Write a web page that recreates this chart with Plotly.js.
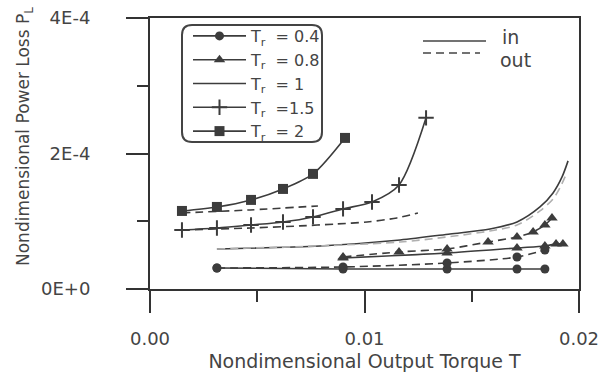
<!DOCTYPE html>
<html>
<head>
<meta charset="utf-8">
<script src="https://cdn.plot.ly/plotly-3.0.1.min.js"></script>
<style>html,body{margin:0;padding:0;background:#fff;}</style>
</head>
<body>
<div id="chart" style="width:598px;height:372px;"></div>
<script>
// ---- data ----
const legendNames = ['T<sub>r</sub>\u00A0\u00A0= 0.4', 'T<sub>r</sub>\u00A0\u00A0= 0.8', 'T<sub>r</sub>\u00A0\u00A0= 1', 'T<sub>r</sub>\u00A0\u00A0=1.5', 'T<sub>r</sub>\u00A0\u00A0= 2'];

const T_in_04  = [0.00312, 0.00900, 0.01385, 0.01711, 0.01841];
const P_in_04  = [0.310e-4, 0.295e-4, 0.295e-4, 0.295e-4, 0.295e-4];
const T_out_04 = [0.00312, 0.00900, 0.01385, 0.01711, 0.01841];
const P_out_04 = [0.310e-4, 0.325e-4, 0.384e-4, 0.473e-4, 0.576e-4];

const T_in_08  = [0.00900, 0.01385, 0.01711, 0.01841, 0.01893, 0.01925];
const P_in_08  = [0.458e-4, 0.532e-4, 0.606e-4, 0.635e-4, 0.665e-4, 0.665e-4];
const T_out_08 = [0.00900, 0.01161, 0.01385, 0.01576, 0.01711, 0.01786, 0.01841, 0.01874];
const P_out_08 = [0.473e-4, 0.547e-4, 0.591e-4, 0.694e-4, 0.768e-4, 0.842e-4, 0.945e-4, 1.049e-4];

const T_in_1   = [0.00312, 0.00793, 0.01166, 0.01399, 0.01585, 0.01711, 0.01818, 0.01879, 0.01921, 0.01949];
const P_in_1   = [0.591e-4, 0.635e-4, 0.724e-4, 0.812e-4, 0.886e-4, 0.990e-4, 1.211e-4, 1.418e-4, 1.654e-4, 1.891e-4];
const T_out_1  = [0.00312, 0.01166, 0.01585, 0.01711, 0.01818, 0.01879, 0.01911, 0.01939];
const P_out_1  = [0.591e-4, 0.694e-4, 0.857e-4, 0.945e-4, 1.152e-4, 1.329e-4, 1.492e-4, 1.684e-4];

const T_in_15  = [0.00149, 0.00312, 0.00471, 0.00620, 0.00760, 0.00900, 0.01035, 0.01161, 0.01287];
const P_in_15  = [0.871e-4, 0.901e-4, 0.945e-4, 0.990e-4, 1.064e-4, 1.182e-4, 1.285e-4, 1.536e-4, 2.526e-4];
const T_out_15 = [0.00149, 0.00471, 0.00699, 0.00872, 0.01012, 0.01151, 0.01249];
const P_out_15 = [0.871e-4, 0.901e-4, 0.931e-4, 0.960e-4, 0.990e-4, 1.049e-4, 1.123e-4];

const T_in_2   = [0.00149, 0.00312, 0.00471, 0.00620, 0.00760, 0.00909];
const P_in_2   = [1.152e-4, 1.211e-4, 1.315e-4, 1.477e-4, 1.699e-4, 2.230e-4];
const T_out_2  = [0.00149, 0.00466, 0.00783];
const P_out_2  = [1.123e-4, 1.167e-4, 1.226e-4];

const xTickVals = [0, 0.01, 0.02];
const xTickText = ['0.00', '0.01', '0.02'];
const xMinorVals = [0.005, 0.015];
const yTickVals = [0, 2e-4, 4e-4];
const yTickText = ['0E+0', '2E-4', '4E-4'];
const yMinorVals = [1e-4, 3e-4];

const xTitle = 'Nondimensional Output Torque T';
const yTitle = 'Nondimensional Power Loss P<sub>L</sub>';

// ---- styles ----
const INK = '#3c3c3c';
const DASH = '8px,5px';

function inTrace(x, y, name, symbol, size) {
  const t = {x: x, y: y, name: name, type: 'scatter', showlegend: true,
    mode: symbol ? 'lines+markers' : 'lines',
    line: {color: INK, width: 1.6, shape: 'spline', smoothing: 0.8}};
  if (symbol) t.marker = {symbol: symbol, size: size, color: INK, line: {color: INK, width: symbol === 'cross-thin' ? 2 : 0}};
  return t;
}
function outTrace(x, y, symbol, size, color) {
  const t = {x: x, y: y, type: 'scatter', showlegend: false, hoverinfo: 'skip',
    mode: symbol ? 'lines+markers' : 'lines',
    line: {color: color || INK, width: 1.6, dash: DASH, shape: 'spline', smoothing: 0.8}};
  if (symbol) t.marker = {symbol: symbol, size: size, color: INK, line: {width: 0}};
  return t;
}

const data = [
  inTrace(T_in_04, P_in_04, legendNames[0], 'circle', 9),
  inTrace(T_in_08, P_in_08, legendNames[1], 'triangle-up', 10),
  inTrace(T_in_1, P_in_1, legendNames[2], null, 0),
  inTrace(T_in_15, P_in_15, legendNames[3], 'cross-thin', 11),
  inTrace(T_in_2, P_in_2, legendNames[4], 'square', 10),
  outTrace(T_out_04, P_out_04, 'circle', 9),
  outTrace(T_out_08, P_out_08, 'triangle-up', 10),
  outTrace(T_out_1, P_out_1, null, 0, '#b0b0b0'),
  outTrace(T_out_15, P_out_15, null, 0),
  outTrace(T_out_2, P_out_2, null, 0)
];

// paper coordinate helpers for decorations (plot area 150..579 x 18..289 px)
function px(v) { return (v - 150) / 429; }
function py(v) { return (289 - v) / 271; }

const bx0 = px(182), bx1 = px(322), by0 = py(142), by1 = py(25);
const rx = 10 / 429, ry = 10 / 271;
const boxPath = 'M ' + (bx0 + rx) + ',' + by1 +
  ' L ' + (bx1 - rx) + ',' + by1 + ' Q ' + bx1 + ',' + by1 + ' ' + bx1 + ',' + (by1 - ry) +
  ' L ' + bx1 + ',' + (by0 + ry) + ' Q ' + bx1 + ',' + by0 + ' ' + (bx1 - rx) + ',' + by0 +
  ' L ' + (bx0 + rx) + ',' + by0 + ' Q ' + bx0 + ',' + by0 + ' ' + bx0 + ',' + (by0 + ry) +
  ' L ' + bx0 + ',' + (by1 - ry) + ' Q ' + bx0 + ',' + by1 + ' ' + (bx0 + rx) + ',' + by1 + ' Z';

const axisCommon = {
  ticks: 'outside', ticklen: 22, tickwidth: 2, tickcolor: '#333',
  showline: true, linewidth: 2, linecolor: '#333', mirror: true,
  showgrid: false, zeroline: false, ticklabeloverflow: 'allow',
  tickfont: {family: 'DejaVu Sans', size: 18, color: '#444'}
};

const layout = {
  width: 598, height: 372,
  margin: {l: 150, r: 19, t: 18, b: 83, pad: 0},
  paper_bgcolor: '#fff', plot_bgcolor: '#fff',
  font: {family: 'DejaVu Sans', size: 17, color: '#444'},
  showlegend: true,
  hovermode: false,
  legend: {
    x: px(188), y: py(19), xanchor: 'left', yanchor: 'top',
    bgcolor: 'rgba(0,0,0,0)', borderwidth: 0,
    font: {family: 'DejaVu Sans', size: 16, color: '#444'},
    itemwidth: 53, tracegroupgap: 0, traceorder: 'normal'
  },
  xaxis: Object.assign({}, axisCommon, {
    range: [0, 0.02], tickmode: 'array', tickvals: xTickVals, ticktext: xTickText,
    ticklabelstandoff: 10,
    minor: {tickmode: 'array', tickvals: xMinorVals, ticks: 'outside', ticklen: 11, tickwidth: 2, tickcolor: '#333', showgrid: false},
    title: {text: xTitle, standoff: 8, font: {family: 'DejaVu Sans', size: 19, color: '#444'}}
  }),
  yaxis: Object.assign({}, axisCommon, {
    range: [0, 4e-4], tickmode: 'array', tickvals: yTickVals, ticktext: yTickText,
    ticklabelstandoff: 32,
    minor: {tickmode: 'array', tickvals: yMinorVals, ticks: 'outside', ticklen: 11, tickwidth: 2, tickcolor: '#333', showgrid: false}
  }),
  shapes: [
    {type: 'path', xref: 'paper', yref: 'paper', path: boxPath, line: {color: '#444', width: 2}, fillcolor: 'rgba(0,0,0,0)'},
    {type: 'line', xref: 'paper', yref: 'paper', x0: px(423), x1: px(486), y0: py(41), y1: py(41), line: {color: '#444', width: 1.6}},
    {type: 'line', xref: 'paper', yref: 'paper', x0: px(423), x1: px(480), y0: py(53), y1: py(53), line: {color: '#444', width: 1.6, dash: DASH}}
  ],
  annotations: [
    {xref: 'paper', yref: 'paper', x: px(24), y: py(137), xanchor: 'center', yanchor: 'middle', showarrow: false, textangle: -90,
     text: yTitle, font: {family: 'DejaVu Sans', size: 17, color: '#444'}},
    {xref: 'paper', yref: 'paper', x: px(500), y: py(37), xanchor: 'left', yanchor: 'middle', showarrow: false, text: 'in', font: {family: 'DejaVu Sans', size: 19, color: '#444'}},
    {xref: 'paper', yref: 'paper', x: px(498), y: py(60), xanchor: 'left', yanchor: 'middle', showarrow: false, text: 'out', font: {family: 'DejaVu Sans', size: 19, color: '#444'}}
  ]
};

Plotly.newPlot('chart', data, layout, {displayModeBar: false, staticPlot: true});
</script>
</body>
</html>
